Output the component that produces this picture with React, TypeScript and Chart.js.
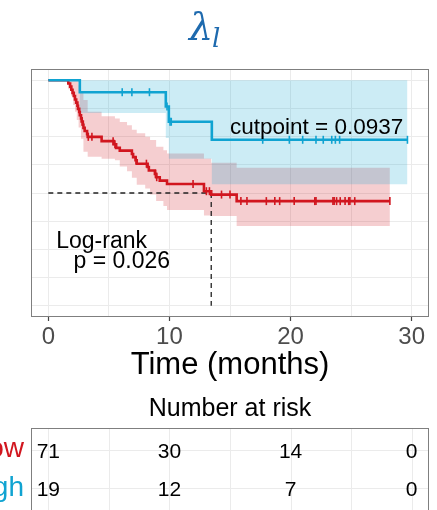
import React, { useEffect, useRef } from 'react';
import { Chart, registerables } from 'chart.js';

Chart.register(...registerables);

const FONT = "'Liberation Sans', Arial, Helvetica, sans-serif";
const RED = '#d1161f';
const BLUE = '#10a3d1';
const RED_FILL = 'rgba(209,22,31,0.21)';
const BLUE_FILL = 'rgba(16,163,209,0.21)';

// ---- High group ----
const highStepTimes = [0, 2.6, 9.7, 9.95, 13.5];
const highStepSurv = [1, 0.947, 0.884, 0.816, 0.736];
const highEndTime = 29.65;
const highCensorTimes = [6.1, 6.9, 8.35, 9.8, 10.05, 10.15, 17.7, 19.9, 21.0, 22.1, 22.7, 23.4, 23.7, 24.05, 29.65];
const highBandTimes = [0, 2.6, 9.7, 9.95, 13.5];
const highBandLower = [1, 0.855, 0.744, 0.652, 0.539];
const highBandUpper = [1, 1, 1, 1, 1];

// ---- Low group ----
const lowStepTimes = [0, 1.65, 1.8, 1.9, 2.0, 2.1, 2.2, 2.3, 2.4, 2.45, 2.55, 2.6, 2.7, 2.75, 2.85, 2.9, 3.0, 3.2, 3.25, 4.4, 5.4, 5.6, 5.9, 6.9, 7.0, 7.2, 7.3, 8.2, 8.3, 8.8, 8.9, 9.2, 9.8, 12.85, 13.45, 15.55];
const lowStepSurv = [1, 0.986, 0.972, 0.958, 0.944, 0.93, 0.915, 0.901, 0.887, 0.873, 0.859, 0.845, 0.831, 0.817, 0.803, 0.789, 0.775, 0.761, 0.749, 0.73, 0.716, 0.7, 0.688, 0.673, 0.659, 0.645, 0.63, 0.615, 0.6, 0.585, 0.57, 0.555, 0.54, 0.508, 0.493, 0.464];
const lowEndTime = 28.2;
const lowCensorTimes = [2.8, 3.3, 3.6, 5.35, 5.5, 7.25, 8.1, 8.85, 8.95, 11.95, 13.05, 13.3, 14.3, 15.0, 15.9, 16.4, 18.0, 18.7, 19.1, 20.3, 22.0, 22.1, 23.5, 23.6, 23.8, 24.1, 24.5, 24.8, 24.9, 25.3, 28.2];
const lowBandTimes = [0, 1.65, 1.9, 2.05, 2.2, 2.35, 2.5, 2.7, 2.9, 3.25, 4.4, 5.5, 5.9, 6.5, 6.9, 7.3, 8.0, 8.4, 8.9, 9.5, 9.8, 12.85, 13.45, 15.55];
const lowBandUpper = [1, 1, 1, 1, 1, 1, 0.978, 0.947, 0.912, 0.86, 0.84, 0.83, 0.815, 0.8, 0.78, 0.765, 0.75, 0.735, 0.705, 0.69, 0.675, 0.653, 0.634, 0.612];
const lowBandLower = [1, 0.96, 0.93, 0.89, 0.86, 0.824, 0.79, 0.741, 0.683, 0.661, 0.652, 0.645, 0.618, 0.596, 0.568, 0.537, 0.52, 0.493, 0.464, 0.442, 0.425, 0.4, 0.398, 0.354];

// ---- Median ----
const medianTime = 13.45;
const medianLevel = 0.5;

// ---- Axes ----
const xGridValues = [0, 5, 10, 15, 20, 25, 30];
const yGridValues = [0, 0.125, 0.25, 0.375, 0.5, 0.625, 0.75, 0.875, 1];

// ---- Risk table ----
const riskTimes = [0, 10, 20, 30];
const riskLow = [71, 30, 14, 0];
const riskHigh = [19, 12, 7, 0];
const groupLabels = ['Low', 'High'];

const cutpointText = 'cutpoint = 0.0937';
const pText = 'p = 0.026';

function stepPoints(times: number[], vals: number[], end: number) {
  const pts = times.map((t, i) => ({ x: t, y: vals[i] }));
  pts.push({ x: end, y: vals[vals.length - 1] });
  return pts;
}

function survAt(times: number[], vals: number[], t: number) {
  let v = vals[0];
  for (let i = 0; i < times.length; i++) {
    if (times[i] <= t) v = vals[i];
  }
  return v;
}

const extrasPlugin = {
  id: 'kmExtras',
  afterDatasetsDraw(chart: any) {
    const { ctx, chartArea, scales } = chart;
    const x = scales.x;
    const y = scales.y;
    ctx.save();
    ctx.fillStyle = '#000';
    ctx.textBaseline = 'alphabetic';
    ctx.font = `22.5px ${FONT}`;
    ctx.textAlign = 'right';
    ctx.fillText(cutpointText, x.getPixelForValue(29.3), y.getPixelForValue(0.762));
    ctx.font = `23px ${FONT}`;
    ctx.textAlign = 'left';
    ctx.fillText('Log-rank', x.getPixelForValue(0.65), y.getPixelForValue(0.258));
    ctx.fillText(pText, x.getPixelForValue(2.08), y.getPixelForValue(0.166));
    ctx.strokeStyle = '#7f7f7f';
    ctx.lineWidth = 1;
    ctx.strokeRect(chartArea.left + 0.5, chartArea.top + 0.5, chartArea.width - 1, chartArea.height - 1);
    ctx.restore();
  },
  afterDraw(chart: any) {
    const { ctx, chartArea, scales } = chart;
    const x = scales.x;
    ctx.save();
    // Title lambda_l
    ctx.fillStyle = '#1e6aae';
    ctx.textBaseline = 'alphabetic';
    ctx.textAlign = 'left';
    ctx.font = `italic 38px 'DejaVu Serif', serif`;
    ctx.fillText('λ', 189, 40);
    ctx.font = `italic 26px 'DejaVu Serif', serif`;
    ctx.fillText('l', 212, 47);

    // Risk table
    const top = 428;
    const rowY = [450, 488];
    ctx.fillStyle = '#000';
    ctx.textAlign = 'center';
    ctx.font = `25px ${FONT}`;
    ctx.fillText('Number at risk', (chartArea.left + chartArea.right) / 2, 416);

    ctx.strokeStyle = '#ebebeb';
    ctx.lineWidth = 1;
    xGridValues.forEach((v) => {
      const px = Math.round(x.getPixelForValue(v)) + 0.5;
      ctx.beginPath();
      ctx.moveTo(px, top);
      ctx.lineTo(px, 520);
      ctx.stroke();
    });
    rowY.forEach((ry) => {
      ctx.beginPath();
      ctx.moveTo(chartArea.left, ry + 0.5);
      ctx.lineTo(chartArea.right, ry + 0.5);
      ctx.stroke();
    });
    ctx.strokeStyle = '#7f7f7f';
    ctx.strokeRect(chartArea.left + 0.5, top + 0.5, chartArea.width - 1, 120);

    ctx.font = `21px ${FONT}`;
    ctx.fillStyle = '#000';
    ctx.textAlign = 'center';
    riskTimes.forEach((t, i) => {
      const px = x.getPixelForValue(t);
      ctx.fillText(String(riskLow[i]), px, rowY[0] + 8);
      ctx.fillText(String(riskHigh[i]), px, rowY[1] + 8);
    });
    ctx.font = `28px ${FONT}`;
    ctx.textAlign = 'right';
    ctx.fillStyle = RED;
    ctx.fillText(groupLabels[0], 24, rowY[0] + 7);
    ctx.fillStyle = BLUE;
    ctx.fillText(groupLabels[1], 24, rowY[1] + 8);
    ctx.restore();
  },
};

export default function App() {
  const canvasRef = useRef<HTMLCanvasElement | null>(null);

  useEffect(() => {
    const canvas = canvasRef.current;
    if (!canvas) return;

    const highCensor = highCensorTimes.map((t) => ({ x: t, y: survAt(highStepTimes, highStepSurv, t) }));
    const lowCensor = lowCensorTimes.map((t) => ({ x: t, y: survAt(lowStepTimes, lowStepSurv, t) }));

    const censorStyle = {
      showLine: false,
      pointStyle: 'line',
      pointRotation: 90,
      pointRadius: 4,
      pointBorderWidth: 1.6,
    };

    const chart = new Chart(canvas, {
      type: 'line',
      data: {
        datasets: [
          { ...censorStyle, data: highCensor, borderColor: BLUE, backgroundColor: BLUE } as any,
          { data: stepPoints(highStepTimes, highStepSurv, highEndTime), stepped: true, borderColor: BLUE, borderWidth: 2.6, pointRadius: 0, fill: false },
          { ...censorStyle, data: lowCensor, borderColor: RED, backgroundColor: RED } as any,
          { data: stepPoints(lowStepTimes, lowStepSurv, lowEndTime), stepped: true, borderColor: RED, borderWidth: 2.6, pointRadius: 0, fill: false },
          { data: [{ x: 0, y: medianLevel }, { x: medianTime, y: medianLevel }], borderColor: '#222', borderWidth: 1.3, borderDash: [5, 4], pointRadius: 0, fill: false },
          { data: [{ x: medianTime, y: medianLevel }, { x: medianTime, y: 0 }], borderColor: '#222', borderWidth: 1.3, borderDash: [5, 4], pointRadius: 0, fill: false },
          { data: stepPoints(highBandTimes, highBandLower, highEndTime), stepped: true, borderWidth: 0, borderColor: 'rgba(0,0,0,0)', pointRadius: 0, fill: false },
          { data: stepPoints(highBandTimes, highBandUpper, highEndTime), stepped: true, borderWidth: 0, borderColor: 'rgba(0,0,0,0)', pointRadius: 0, fill: '-1', backgroundColor: BLUE_FILL },
          { data: stepPoints(lowBandTimes, lowBandLower, lowEndTime), stepped: true, borderWidth: 0, borderColor: 'rgba(0,0,0,0)', pointRadius: 0, fill: false },
          { data: stepPoints(lowBandTimes, lowBandUpper, lowEndTime), stepped: true, borderWidth: 0, borderColor: 'rgba(0,0,0,0)', pointRadius: 0, fill: '-1', backgroundColor: RED_FILL },
        ],
      },
      options: {
        animation: false,
        responsive: false,
        devicePixelRatio: 1,
        layout: { padding: { top: 69, left: 31, right: 8, bottom: 129 } },
        plugins: {
          legend: { display: false },
          tooltip: { enabled: false },
          title: { display: false },
        },
        scales: {
          x: {
            type: 'linear',
            min: -1.43,
            max: 31.43,
            afterBuildTicks: (s: any) => {
              s.ticks = xGridValues.map((v) => ({ value: v }));
            },
            afterFit: (s: any) => {
              s.height = 64;
            },
            ticks: {
              autoSkip: false,
              maxRotation: 0,
              padding: 2,
              color: '#4d4d4d',
              font: { family: FONT, size: 24 },
              callback: (v: any) => (Number(v) % 10 === 0 ? String(v) : ''),
            },
            grid: {
              color: '#ebebeb',
              lineWidth: 1,
              tickLength: 4,
              tickWidth: 1.2,
              tickColor: (c: any) => (c.tick && c.tick.value % 10 === 0 ? '#444' : 'rgba(0,0,0,0)'),
            },
            border: { display: false },
            title: {
              display: true,
              text: 'Time (months)',
              color: '#000',
              font: { family: FONT, size: 31, lineHeight: 1 },
              padding: 0,
            },
          },
          y: {
            type: 'linear',
            min: -0.05,
            max: 1.05,
            afterBuildTicks: (s: any) => {
              s.ticks = yGridValues.map((v) => ({ value: v }));
            },
            ticks: { display: false },
            grid: { color: '#ebebeb', lineWidth: 1, drawTicks: false },
            border: { display: false },
          },
        },
      } as any,
      plugins: [extrasPlugin],
    });

    return () => {
      chart.destroy();
    };
  }, []);

  return (
    <div style={{ position: 'absolute', left: 0, top: 0, width: 437, height: 510, background: '#fff' }}>
      <canvas ref={canvasRef} width={437} height={510} style={{ display: 'block', width: 437, height: 510 }} />
    </div>
  );
}
